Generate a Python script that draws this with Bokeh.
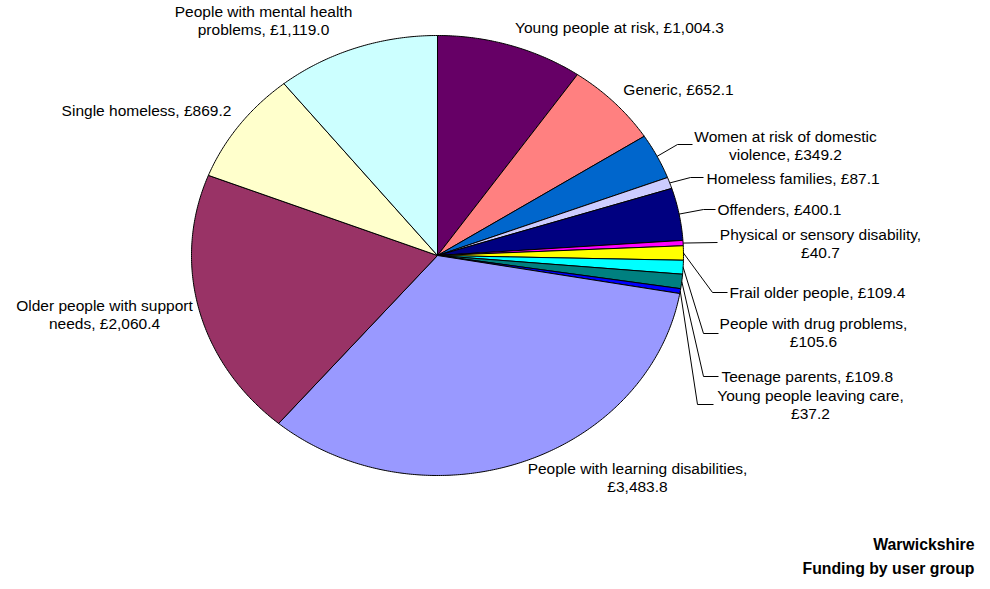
import math
from bokeh.plotting import figure
from bokeh.models import Range1d
from bokeh.core.properties import value
from bokeh.embed import file_html
from bokeh.resources import INLINE

# ---- data ----
categories = [
    "Young people at risk", "Generic", "Women at risk of domestic violence",
    "Homeless families", "Offenders", "Physical or sensory disability",
    "Frail older people", "People with drug problems", "Teenage parents",
    "Young people leaving care", "People with learning disabilities",
    "Older people with support needs", "Single homeless",
    "People with mental health problems",
]
values = [1004.3, 652.1, 349.2, 87.1, 400.1, 40.7, 109.4, 105.6, 109.8, 37.2,
          3483.8, 2060.4, 869.2, 1119.0]
colors = ["#660066", "#FF8080", "#0066CC", "#CCCCFF", "#000080", "#FF00FF",
          "#FFFF00", "#00FFFF", "#008080", "#0000FF", "#9999FF", "#993366",
          "#FFFFCC", "#CCFFFF"]
title_lines = ["Warwickshire", "Funding by user group"]

# ---- layout (pixel space) ----
W, H = 990, 589
CX, CY, RX, RY = 437, 255, 246, 220
FONT = "Liberation Sans"
FS = "15.5px"
FS_BOLD = "15.8px"

# per-slice label layout: (words on first line or None, x, y, align, leader elbow/end points)
label_layout = [
    (None, 619, 27, "center", None),
    (None, 678, 89, "center", None),
    (5, 785, 136, "center", [(677, 144), (692, 144)]),
    (None, 706, 178, "left", [(690, 177), (703, 177)]),
    (None, 717, 209, "left", [(703, 209), (715, 209)]),
    (4, 820, 234, "center", [(717, 242)]),
    (None, 729, 292, "left", [(712, 292), (727, 292)]),
    (4, 813, 323, "center", [(703, 333), (718, 333)]),
    (None, 721, 376, "left", [(703, 376), (718, 376)]),
    (4, 810, 395, "center", [(697, 404), (713, 404)]),
    (4, 637, 468, "center", None),
    (4, 104, 305, "center", None),
    (None, 146, 110, "center", None),
    (4, 263, 11, "center", None),
]
LINE_GAP = 17.5


def pt(theta_deg):
    t = math.radians(theta_deg)
    return CX + RX * math.sin(t), CY - RY * math.cos(t)


p = figure(width=W, height=H, output_backend="svg", toolbar_location=None,
           x_range=Range1d(0, W), y_range=Range1d(H, 0), min_border=0)
p.axis.visible = False
p.grid.visible = False
p.outline_line_color = None
p.background_fill_color = "white"
p.border_fill_color = "white"

total = sum(values)
xs, ys, mids = [], [], []
acc = 0.0
for v in values:
    a0 = acc / total * 360.0
    acc += v
    a1 = acc / total * 360.0
    n = max(2, int((a1 - a0) / 0.5) + 2)
    px, py = [CX], [CY]
    for i in range(n):
        x, y = pt(a0 + (a1 - a0) * i / (n - 1))
        px.append(x)
        py.append(y)
    xs.append(px)
    ys.append(py)
    mids.append((a0 + a1) / 2)

p.patches(xs, ys, fill_color=colors, line_color="black", line_width=1)

# leader lines
lx, ly = [], []
for (brk, x, y, align, leader), m in zip(label_layout, mids):
    if leader:
        sx, sy = pt(m)
        lx.append([sx] + [q[0] for q in leader])
        ly.append([sy] + [q[1] for q in leader])
p.multi_line(lx, ly, line_color="black", line_width=1)

# labels
tx, ty, tt, ta = [], [], [], []
for cat, v, (brk, x, y, align, leader) in zip(categories, values, label_layout):
    full = f"{cat}, \u00a3{v:,.1f}"
    if brk:
        words = full.split(" ")
        lines = [" ".join(words[:brk]), " ".join(words[brk:])]
    else:
        lines = [full]
    for i, ln in enumerate(lines):
        tx.append(x)
        ty.append(y + i * LINE_GAP)
        tt.append(ln)
        ta.append(align)

for al in ("left", "center"):
    idx = [i for i, a in enumerate(ta) if a == al]
    p.text([tx[i] for i in idx], [ty[i] for i in idx], text=[tt[i] for i in idx],
           text_font=value(FONT), text_font_size=FS, text_color="black",
           text_align=al, text_baseline="middle")

p.text([974, 974], [544, 568], text=title_lines, text_font=value(FONT),
       text_font_size=FS_BOLD, text_font_style="bold", text_color="black",
       text_align="right", text_baseline="middle")

open("out.html", "w").write(file_html(p, INLINE))
